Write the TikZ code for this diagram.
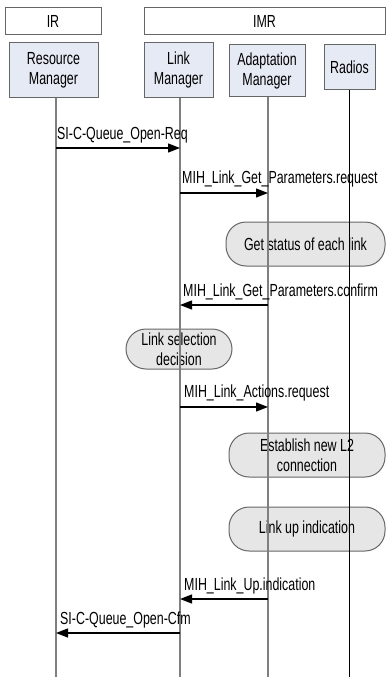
\documentclass[tikz,border=0pt]{standalone}
\usepackage{fontspec}
\setmainfont{Liberation Sans}[FakeStretch=0.71]
\usetikzlibrary{arrows.meta}
\definecolor{boxfill}{HTML}{E6EAF4}
\definecolor{actfill}{HTML}{E6E6E6}
\definecolor{lifegray}{HTML}{7F7F7F}
\definecolor{edgegray}{HTML}{666666}
\begin{document}
\begin{tikzpicture}[x=1pt,y=-1pt,
  every node/.style={font=\fontsize{17.5}{20}\selectfont, inner sep=0pt},
  groupbox/.style={draw=edgegray, line width=1pt, fill=white, minimum height=27pt},
  entity/.style={draw=edgegray, line width=1pt, fill=boxfill, align=center},
  activity/.style={draw=edgegray, line width=1pt, fill=actfill, rounded corners=20pt, align=center},
  lifeline/.style={draw=lifegray, line width=1.3pt},
  msg/.style={draw=black, line width=1.3pt, -{Triangle[length=12pt,width=9pt]}},
  msglabel/.style={anchor=base west}]
\useasboundingbox (0,0) rectangle (386,677);

% group headers
\node[groupbox, minimum width=96pt] (ir) at (53,21.5) {IR};
\node[groupbox, minimum width=241pt] (imr) at (264.5,21.5) {IMR};

% participants
\node[entity, minimum width=89pt, minimum height=54pt] (rm) at (53.5,70) {Resource\\Manager};
\node[entity, minimum width=69pt, minimum height=54pt] (lm) at (178.5,70) {Link\\Manager};
\node[entity, minimum width=76pt, minimum height=51pt] (am) at (267,70.5) {Adaptation\\Manager};
\node[entity, minimum width=51pt, minimum height=44pt] (ra) at (349.5,67) {Radios};

% lifeline ends
\coordinate (rmB) at (56,677);
\coordinate (lmB) at (180,677);
\coordinate (amB) at (268,677);
\coordinate (raB) at (349,677);

% activities
\node[activity, minimum width=159pt, minimum height=44pt] (gs) at (305.5,244) {Get status of each link};
\node[activity, minimum width=106pt, minimum height=40pt] (lsd) at (179,349) {Link selection\\decision};
\node[activity, minimum width=156pt, minimum height=44pt] (est) at (307,455) {Establish new L2\\connection};
\node[activity, minimum width=156pt, minimum height=44pt] (lui) at (307,529) {Link up indication};

% lifelines
\draw[lifeline] (rm.south -| rmB) -- (rmB);
\draw[lifeline] (lm.south -| lmB) -- (lmB);
\draw[lifeline] (am.south -| amB) -- (amB);
\draw[lifeline, draw=black, line width=1pt] (ra.south -| raB) -- (raB);

% messages
\node[msglabel] (l1) at (57,139.3) {SI-C-Queue\_Open-Req};
\draw[msg] (rmB |- 0,148) -- (lmB |- 0,148);

\node[msglabel] (l2) at (182,183.3) {MIH\_Link\_Get\_Parameters.request};
\draw[msg] (lmB |- 0,193) -- (amB |- 0,193);

\node[msglabel] (l3) at (183,296.5) {MIH\_Link\_Get\_Parameters.confirm};
\draw[msg] (amB |- 0,305) -- (lmB |- 0,305);

\node[msglabel] (l4) at (184,397) {MIH\_Link\_Actions.request};
\draw[msg] (lmB |- 0,407) -- (amB |- 0,407);

\node[msglabel] (l5) at (184,590.7) {MIH\_Link\_Up.indication};
\draw[msg] (amB |- 0,599) -- (lmB |- 0,599);

\node[msglabel] (l6) at (60,624) {SI-C-Queue\_Open-Cfm};
\draw[msg] (lmB |- 0,633) -- (rmB |- 0,633);
\end{tikzpicture}
\end{document}
